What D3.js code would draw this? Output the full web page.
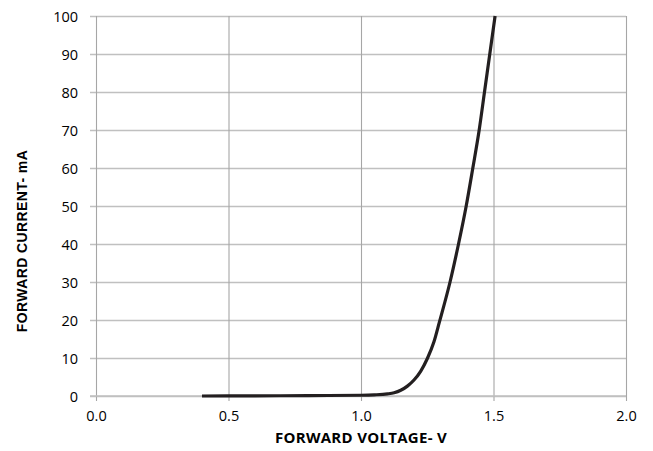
<!DOCTYPE html>
<html><head><meta charset="utf-8">
<script src="https://cdn.jsdelivr.net/npm/d3@7"></script>
<style>body{margin:0;background:#fff}svg{display:block}</style>
</head><body>
<svg id="c" width="653" height="451"></svg>
<script>
const voltage = [0.40, 0.60, 0.80, 1.00, 1.05, 1.10, 1.125, 1.15, 1.175, 1.20, 1.225, 1.25, 1.275, 1.296, 1.336, 1.368, 1.397, 1.422, 1.446, 1.466, 1.486, 1.506];
const current = [0.0, 0.05, 0.1, 0.2, 0.3, 0.55, 0.85, 1.5, 2.6, 4.2, 6.5, 9.8, 14.2, 19.5, 30, 40, 50, 60, 70, 80, 90, 100];
const xTicks = [0.0, 0.5, 1.0, 1.5, 2.0];
const yTicks = [0, 10, 20, 30, 40, 50, 60, 70, 80, 90, 100];
const xTitle = "FORWARD VOLTAGE- V";
const yTitle = "FORWARD CURRENT- mA";

const svg = d3.select("#c");
const m = {l: 96, r: 626, t: 16, b: 396};
const x = d3.scaleLinear().domain([0, 2]).range([m.l, m.r]);
const y = d3.scaleLinear().domain([0, 100]).range([m.b, m.t]);

// horizontal grid
const gy = svg.append("g").attr("transform", `translate(${m.l},0)`)
  .call(d3.axisLeft(y).tickValues(yTicks).tickSize(6).tickSizeOuter(0).tickPadding(12));
gy.select(".domain").remove();
gy.selectAll(".tick line").attr("x2", m.r - m.l).attr("x1", -6).attr("stroke", "#c0c0c0").attr("stroke-width", 1.3);
gy.selectAll(".tick text").attr("font-family", "Open Sans").attr("font-size", 14.5).attr("fill", "#000").attr("dy", "0.36em");

// vertical grid
const gx = svg.append("g").attr("transform", `translate(0,${m.b})`)
  .call(d3.axisBottom(x).tickValues(xTicks).tickFormat(d3.format(".1f")).tickSize(6).tickSizeOuter(0).tickPadding(9));
gx.select(".domain").remove();
gx.selectAll(".tick line").attr("y1", -(m.b - m.t)).attr("y2", 5).attr("stroke", "#a6a6a6").attr("stroke-width", 1.1);
gx.selectAll(".tick text").attr("font-family", "Open Sans").attr("font-size", 14.5).attr("fill", "#000");

// bottom line over vertical lines
svg.append("line").attr("x1", m.l - 6).attr("x2", m.r).attr("y1", y(0)).attr("y2", y(0))
  .attr("stroke", "#c0c0c0").attr("stroke-width", 1.3);

// curve
const pts = voltage.map((v, i) => [v, current[i]]);
svg.append("path").datum(pts)
  .attr("fill", "none").attr("stroke", "#231f20").attr("stroke-width", 3.2)
  .attr("stroke-linecap", "butt")
  .attr("d", d3.line().x(d => x(d[0])).y(d => y(d[1])).curve(d3.curveMonotoneX));

svg.append("text").attr("x", 361).attr("y", 443).attr("text-anchor", "middle")
  .attr("font-family", "Open Sans").attr("font-weight", "bold").attr("font-size", 15)
  .attr("letter-spacing", 0.3)
  .text(xTitle);
svg.append("text").attr("transform", "translate(27,241) rotate(-90)").attr("text-anchor", "middle")
  .attr("font-family", "Liberation Sans").attr("font-weight", "bold").attr("font-size", 14)
  .attr("letter-spacing", 0.4)
  .text(yTitle);
</script>
</body></html>
